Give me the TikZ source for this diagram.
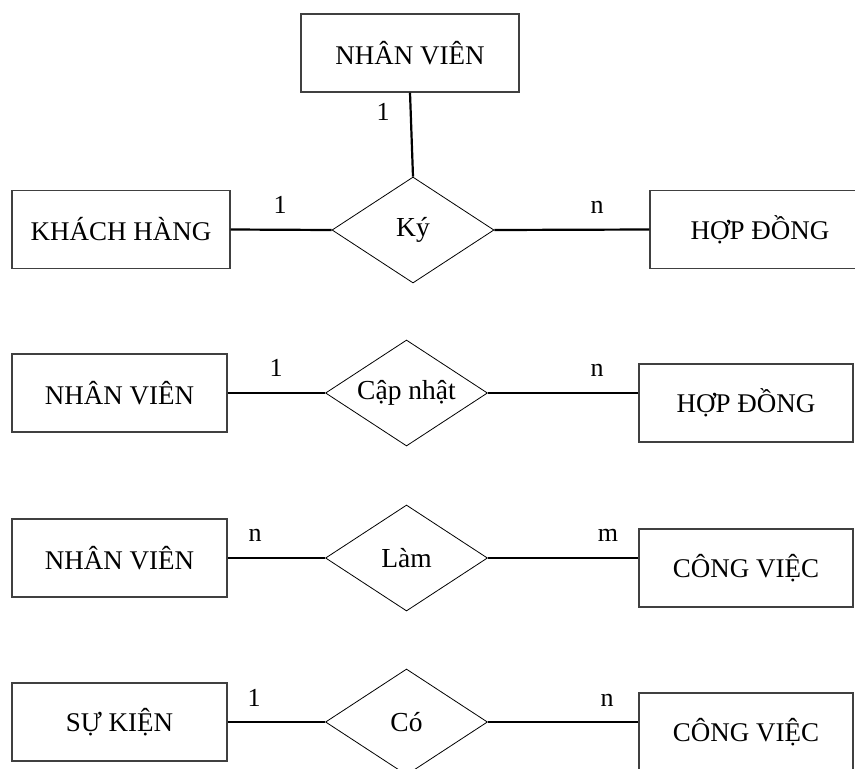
\documentclass[tikz,border=0pt]{standalone}
\usepackage{fontspec}
\setmainfont{Liberation Serif}
\usetikzlibrary{shapes.geometric}
\begin{document}
\begin{tikzpicture}[x=1pt,y=-1pt,
  entity/.style={draw=black!75, line width=1.1pt, minimum height=78pt,
    inner sep=0pt, font=\fontsize{27}{31}\selectfont},
  rel/.style={diamond, draw, line width=0.8pt, minimum width=162pt,
    minimum height=106pt, inner sep=0pt,
    label={[relname]center:#1}},
  relname/.style={inner sep=0pt, font=\fontsize{27.5}{31}\selectfont},
  link/.style={line width=2.2pt},
  card/.style={anchor=base, inner sep=0pt, font=\fontsize{26}{30}\selectfont}]
\useasboundingbox (0,0) rectangle (855,769);
\clip (0,0) rectangle (855,769);

% Ký: customer, employee and contract
\node[entity, minimum width=218pt] (nv0) at (410,53) {NHÂN VIÊN};
\node[rel=Ký] (ky) at (413,230) {};
\node[entity, minimum width=218pt] (kh) at (121,229.5) {KHÁCH HÀNG};
\node[entity, minimum width=220pt] (hd1) at (760,229.5) {HỢP ĐỒNG};
\draw[link] (nv0.south) -- (ky.north);
\draw[link] (kh.east) -- (ky.west);
\draw[link] (ky.east) -- (hd1.west);
\node[card] (k1) at (383,120.5) {1};
\node[card] (k2) at (280,213) {1};
\node[card] (k3) at (597,213) {n};

% Cập nhật
\node[entity, minimum width=215pt] (nv1) at (119.5,393) {NHÂN VIÊN};
\node[rel=Cập nhật] (cn) at (406.5,393) {};
\node[entity, minimum width=214pt] (hd2) at (746,403) {HỢP ĐỒNG};
\draw[link] (nv1.east) -- (cn.west);
\draw[link] (cn.east) -- (cn.east -| hd2.west);
\node[card] (c1) at (276,376.5) {1};
\node[card] (c2) at (597,376.5) {n};

% Làm
\node[entity, minimum width=215pt] (nv2) at (119.5,558) {NHÂN VIÊN};
\node[rel=Làm] (lam) at (406.5,558) {};
\node[entity, minimum width=214pt] (cv1) at (746,568) {CÔNG VIỆC};
\draw[link] (nv2.east) -- (lam.west);
\draw[link] (lam.east) -- (lam.east -| cv1.west);
\node[card] (l1) at (255,541.5) {n};
\node[card] (l2) at (608,541.5) {m};

% Có
\node[entity, minimum width=215pt] (sk) at (119.5,722) {SỰ KIỆN};
\node[rel=Có] (co) at (406.5,722) {};
\node[entity, minimum width=214pt] (cv2) at (746,732) {CÔNG VIỆC};
\draw[link] (sk.east) -- (co.west);
\draw[link] (co.east) -- (co.east -| cv2.west);
\node[card] (o1) at (254,706) {1};
\node[card] (o2) at (607,706) {n};
\end{tikzpicture}
\end{document}
